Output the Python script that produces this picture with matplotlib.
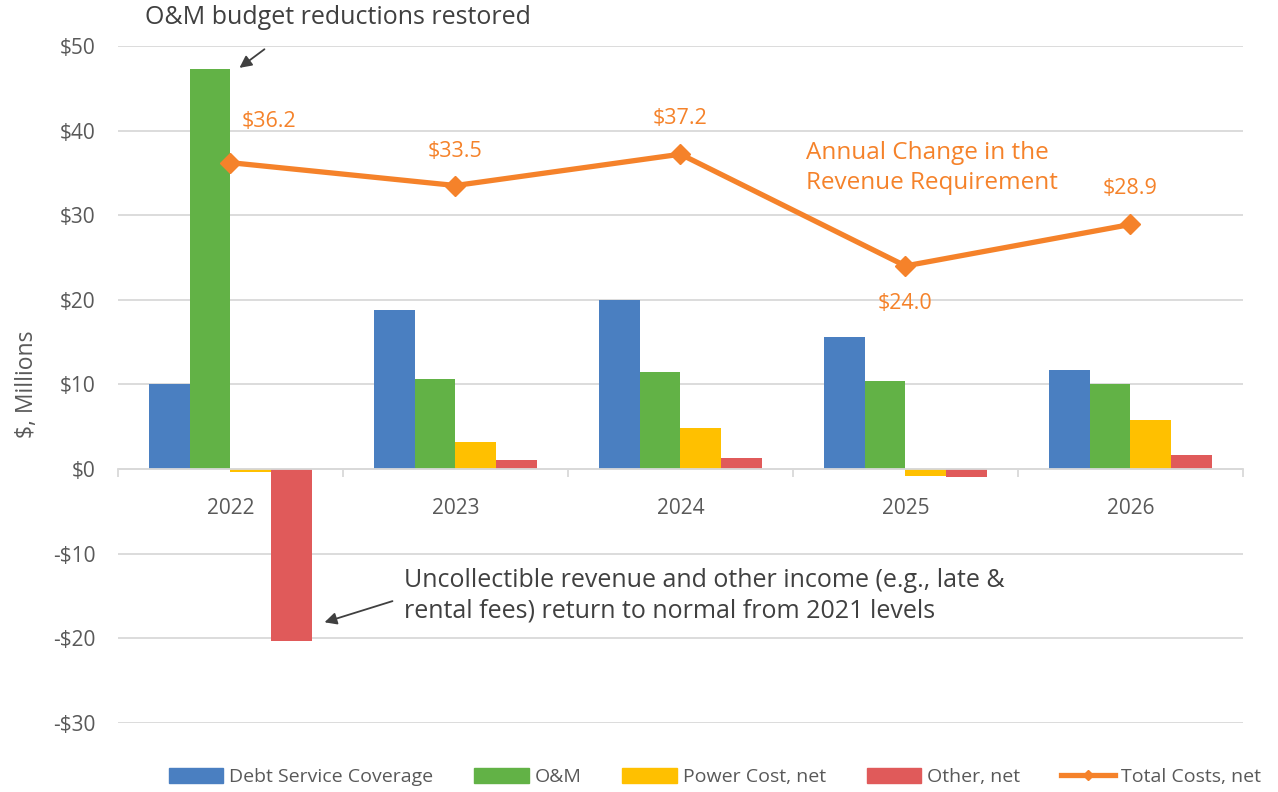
import numpy as np
import matplotlib.pyplot as plt
from matplotlib.patches import Patch
from matplotlib.lines import Line2D

plt.rcParams['font.family'] = ['Open Sans', 'DejaVu Sans']

years = ['2022', '2023', '2024', '2025', '2026']
debt_service = [10.0, 18.8, 20.0, 15.6, 11.7]
om = [47.3, 10.6, 11.5, 10.4, 10.0]
power_cost = [-0.3, 3.2, 4.8, -0.8, 5.8]
other = [-20.3, 1.1, 1.3, -0.9, 1.7]
total = [36.2, 33.5, 37.2, 24.0, 28.9]

series = ['Debt Service Coverage', 'O&M', 'Power Cost, net', 'Other, net']
colores = ['#4A7FC1', '#62B246', '#FFC000', '#E05A5A']
naranja = '#F5822A'
gris = '#404040'

fig = plt.figure(figsize=(12.78, 7.92), dpi=100)
ax = fig.add_axes([0.0923, 0.0871, 0.8803, 0.855])

x = np.arange(len(years))
ancho = 0.181
for i, vals in enumerate([debt_service, om, power_cost, other]):
    ax.bar(x + (i - 1.5) * ancho, vals, ancho, color=colores[i], zorder=2)

ax.plot(x, total, color=naranja, lw=3.8, marker='D', markersize=10, zorder=3)

# etiquetas de la linea
desplaz = [4.9, 4.0, 4.2, -4.4, 4.2]
for i, v in enumerate(total):
    ha = 'left' if i == 0 else 'center'
    xx = x[i] + 0.05 if i == 0 else x[i]
    ax.text(xx, v + desplaz[i], f'${v:.1f}', ha=ha, va='center',
            fontsize=15.5, color=naranja)

ax.set_xlim(-0.5, 4.5)
ax.set_ylim(-30, 50)
ax.set_yticks(range(-30, 51, 10))
ax.set_yticklabels([f'-${-t}' if t < 0 else f'${t}' for t in range(-30, 51, 10)])
ax.grid(axis='y', color='#D9D9D9', lw=1.3, zorder=0)
ax.set_axisbelow(True)

for s in ['top', 'right', 'left']:
    ax.spines[s].set_visible(False)
ax.spines['bottom'].set_position(('data', 0))
ax.spines['bottom'].set_color('#D9D9D9')
ax.spines['bottom'].set_linewidth(1.3)

ax.set_xticks(x)
ax.set_xticklabels(years)
ax.set_xticks(np.arange(-0.5, 5, 1), minor=True)
ax.tick_params(axis='x', which='major', length=0, pad=21, labelsize=15, labelcolor='#595959')
ax.tick_params(axis='x', which='minor', length=6, color='#D9D9D9', width=1.3)
ax.tick_params(axis='y', length=0, pad=16, labelsize=15, labelcolor='#595959')
ax.set_ylabel('$, Millions', fontsize=16.5, color='#595959', labelpad=10)

# anotaciones
ax.text(-0.382, 53.3, 'O&M budget reductions restored', fontsize=18, color=gris,
        ha='left', va='center')
ax.annotate('', xy=(0.04, 47.4), xytext=(0.151, 49.6), annotation_clip=False,
            arrowprops=dict(arrowstyle='-|>', color=gris, lw=1.3,
                            mutation_scale=18, shrinkA=0, shrinkB=0))
ax.text(0.773, -14.95,
        'Uncollectible revenue and other income (e.g., late &\nrental fees) return to normal from 2021 levels',
        fontsize=18, color=gris, ha='left', va='center', linespacing=1.3)
ax.annotate('', xy=(0.418, -18.1), xytext=(0.72, -15.6),
            arrowprops=dict(arrowstyle='-|>', color=gris, lw=1.3,
                            mutation_scale=18, shrinkA=0, shrinkB=0))
ax.text(2.556, 35.55, 'Annual Change in the\nRevenue Requirement', fontsize=17.5,
        color=naranja, ha='left', va='center', linespacing=1.3)

handles = [Patch(color=c) for c in colores]
handles.append(Line2D([0], [0], color=naranja, lw=3.8, marker='D', markersize=5))
fig.legend(handles, series + ['Total Costs, net'], loc='center', bbox_to_anchor=(0.5595, 0.019),
           ncol=5, frameon=False, fontsize=14, handlelength=2.8, handleheight=0.8,
           columnspacing=2.1, handletextpad=0.3, labelcolor='#595959')

fig.savefig('out.png', dpi=100)
